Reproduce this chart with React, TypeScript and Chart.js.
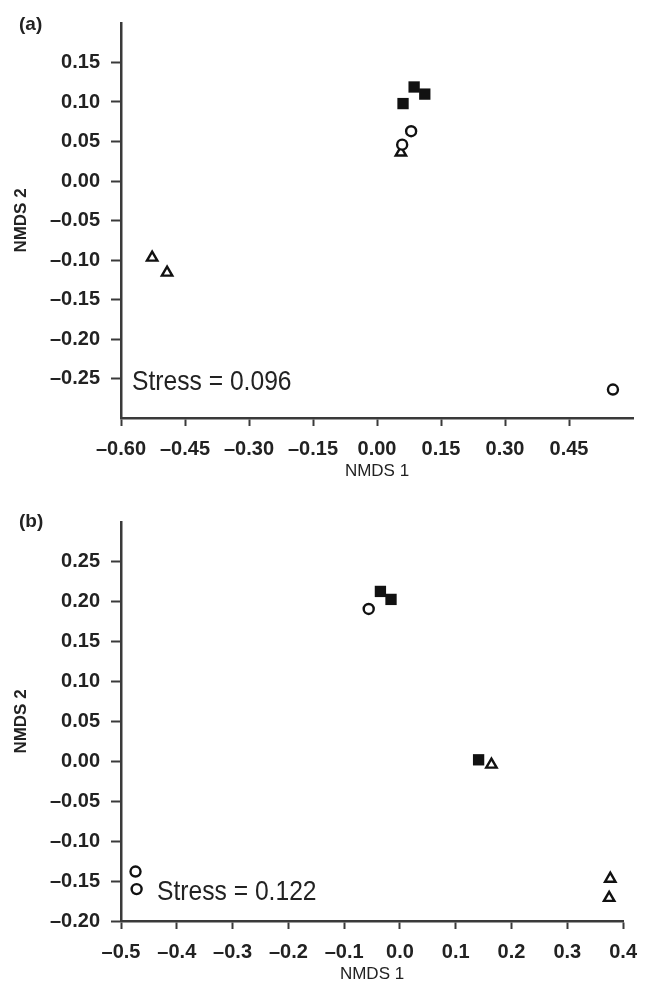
import React, { useEffect, useRef } from "react";
import { Chart, registerables } from "chart.js";

Chart.register(...registerables);

// ---------- Panel (a) data ----------
const squaresA = [
  { x: 0.061, y: 0.098 },
  { x: 0.087, y: 0.119 },
  { x: 0.112, y: 0.11 },
];
const circlesA = [
  { x: 0.08, y: 0.063 },
  { x: 0.059, y: 0.046 },
  { x: 0.553, y: -0.264 },
];
const trianglesA = [
  { x: 0.056, y: 0.036 },
  { x: -0.527, y: -0.097 },
  { x: -0.492, y: -0.116 },
];
const xTicksA = [-0.6, -0.45, -0.3, -0.15, 0, 0.15, 0.3, 0.45];
const yTicksA = [-0.25, -0.2, -0.15, -0.1, -0.05, 0, 0.05, 0.1, 0.15];
const xRangeA = [-0.6, 0.6];
const yRangeA = [-0.3, 0.2];
const stressA = "Stress = 0.096";

// ---------- Panel (b) data ----------
const squaresB = [
  { x: -0.035, y: 0.213 },
  { x: -0.016, y: 0.203 },
  { x: 0.141, y: 0.002 },
];
const circlesB = [
  { x: -0.056, y: 0.191 },
  { x: -0.474, y: -0.138 },
  { x: -0.472, y: -0.16 },
];
const trianglesB = [
  { x: 0.164, y: -0.004 },
  { x: 0.377, y: -0.147 },
  { x: 0.375, y: -0.171 },
];
const xTicksB = [-0.5, -0.4, -0.3, -0.2, -0.1, 0, 0.1, 0.2, 0.3, 0.4];
const yTicksB = [-0.2, -0.15, -0.1, -0.05, 0, 0.05, 0.1, 0.15, 0.2, 0.25];
const xRangeB = [-0.5, 0.4];
const yRangeB = [-0.2, 0.3];
const stressB = "Stress = 0.122";

const FONT = '"Liberation Sans", Arial, Helvetica, sans-serif';
const AXIS = "#3a3a3a";
const TEXT = "#222";

const annotPlugin = {
  id: "annot",
  afterDraw(chart: any, _args: any, opts: any) {
    const { ctx, chartArea } = chart;
    ctx.save();
    ctx.fillStyle = TEXT;
    ctx.textAlign = "left";
    ctx.textBaseline = "middle";
    ctx.font = `bold 19px ${FONT}`;
    ctx.fillText(opts.panel, opts.panelX, opts.panelY);
    ctx.font = `28px ${FONT}`;
    ctx.translate(chartArea.left + opts.stressDX, chartArea.bottom - opts.stressDY);
    ctx.scale(0.88, 1);
    ctx.fillText(opts.stress, 0, 0);
    ctx.restore();
  },
};

function fmt(v: number, d: number) {
  const s = Math.abs(v).toFixed(d);
  return v < -1e-9 ? "\u2013" + s : s;
}

function makeConfig(p: any) {
  const ds = (label: string, data: any[], style: string, radius: number, filled: boolean) => ({
    label,
    data,
    pointStyle: style,
    pointRadius: radius,
    pointHoverRadius: radius,
    backgroundColor: filled ? "#111" : "#fff",
    borderColor: "#111",
    borderWidth: filled ? 0 : 2.4,
    showLine: false,
  });
  return {
    type: "scatter",
    data: {
      datasets: [
        ds("Squares", p.squares, "rect", 8, true),
        ds("Circles", p.circles, "circle", 5, false),
        ds("Triangles", p.triangles, "triangle", 6, false),
      ],
    },
    options: {
      responsive: false,
      animation: false,
      events: [],
      layout: { padding: p.padding },
      plugins: {
        legend: { display: false },
        tooltip: { enabled: false },
        annot: {
          panel: p.panel,
          panelX: 19,
          panelY: p.panelY,
          stress: p.stress,
          stressDX: p.stressDX,
          stressDY: p.stressDY,
        },
      },
      scales: {
        x: {
          type: "linear",
          min: p.xRange[0],
          max: p.xRange[1],
          afterBuildTicks: (s: any) => {
            s.ticks = p.xTicks.map((v: number) => ({ value: v }));
          },
          afterFit: (s: any) => {
            s.height = 75;
          },
          border: { display: true, color: AXIS, width: 2.5 },
          grid: {
            drawOnChartArea: false,
            drawTicks: true,
            tickLength: 8,
            tickWidth: 2,
            tickColor: AXIS,
          },
          ticks: {
            padding: 11,
            color: TEXT,
            font: { family: FONT, size: 20, weight: "bold" },
            maxRotation: 0,
            autoSkip: false,
            callback: (v: number) => fmt(v, p.xDec),
          },
          title: {
            display: true,
            text: "NMDS 1",
            color: TEXT,
            font: { family: FONT, size: 17 },
            padding: { top: 0, bottom: 11 },
          },
        },
        y: {
          type: "linear",
          min: p.yRange[0],
          max: p.yRange[1],
          afterBuildTicks: (s: any) => {
            s.ticks = p.yTicks.map((v: number) => ({ value: v }));
          },
          afterFit: (s: any) => {
            s.width = 121;
          },
          border: { display: true, color: AXIS, width: 2.5 },
          grid: {
            drawOnChartArea: false,
            drawTicks: true,
            tickLength: 10,
            tickWidth: 2,
            tickColor: AXIS,
          },
          ticks: {
            padding: 11,
            color: TEXT,
            font: { family: FONT, size: 20, weight: "bold" },
            autoSkip: false,
            callback: (v: number) => fmt(v, 2),
          },
          title: {
            display: true,
            text: "NMDS 2",
            color: TEXT,
            font: { family: FONT, size: 17, weight: "bold" },
            padding: { top: 11, bottom: 0 },
          },
        },
      },
    },
    plugins: [annotPlugin],
  };
}

function Panel(props: { cfg: any; top: number }) {
  const ref = useRef<HTMLCanvasElement | null>(null);
  useEffect(() => {
    if (!ref.current) return;
    const chart = new Chart(ref.current, props.cfg);
    return () => chart.destroy();
  }, []);
  return (
    <div style={{ position: "absolute", left: 0, top: props.top, width: 648, height: 499 }}>
      <canvas ref={ref} width={648} height={499} style={{ display: "block" }} />
    </div>
  );
}

export default function App() {
  const cfgA = makeConfig({
    squares: squaresA,
    circles: circlesA,
    triangles: trianglesA,
    xTicks: xTicksA,
    yTicks: yTicksA,
    xRange: xRangeA,
    yRange: yRangeA,
    xDec: 2,
    panel: "(a)",
    panelY: 25,
    stress: stressA,
    stressDX: 11,
    stressDY: 36,
    padding: { left: 0, right: 15, top: 10, bottom: 6 },
  });
  const cfgB = makeConfig({
    squares: squaresB,
    circles: circlesB,
    triangles: trianglesB,
    xTicks: xTicksB,
    yTicks: yTicksB,
    xRange: xRangeB,
    yRange: yRangeB,
    xDec: 1,
    panel: "(b)",
    panelY: 23,
    stress: stressB,
    stressDX: 36,
    stressDY: 29,
    padding: { left: 0, right: 16, top: 14, bottom: 2 },
  });
  return (
    <div style={{ position: "absolute", left: 0, top: 0, width: 648, height: 998, background: "#fff" }}>
      <Panel cfg={cfgA} top={0} />
      <Panel cfg={cfgB} top={499} />
    </div>
  );
}
